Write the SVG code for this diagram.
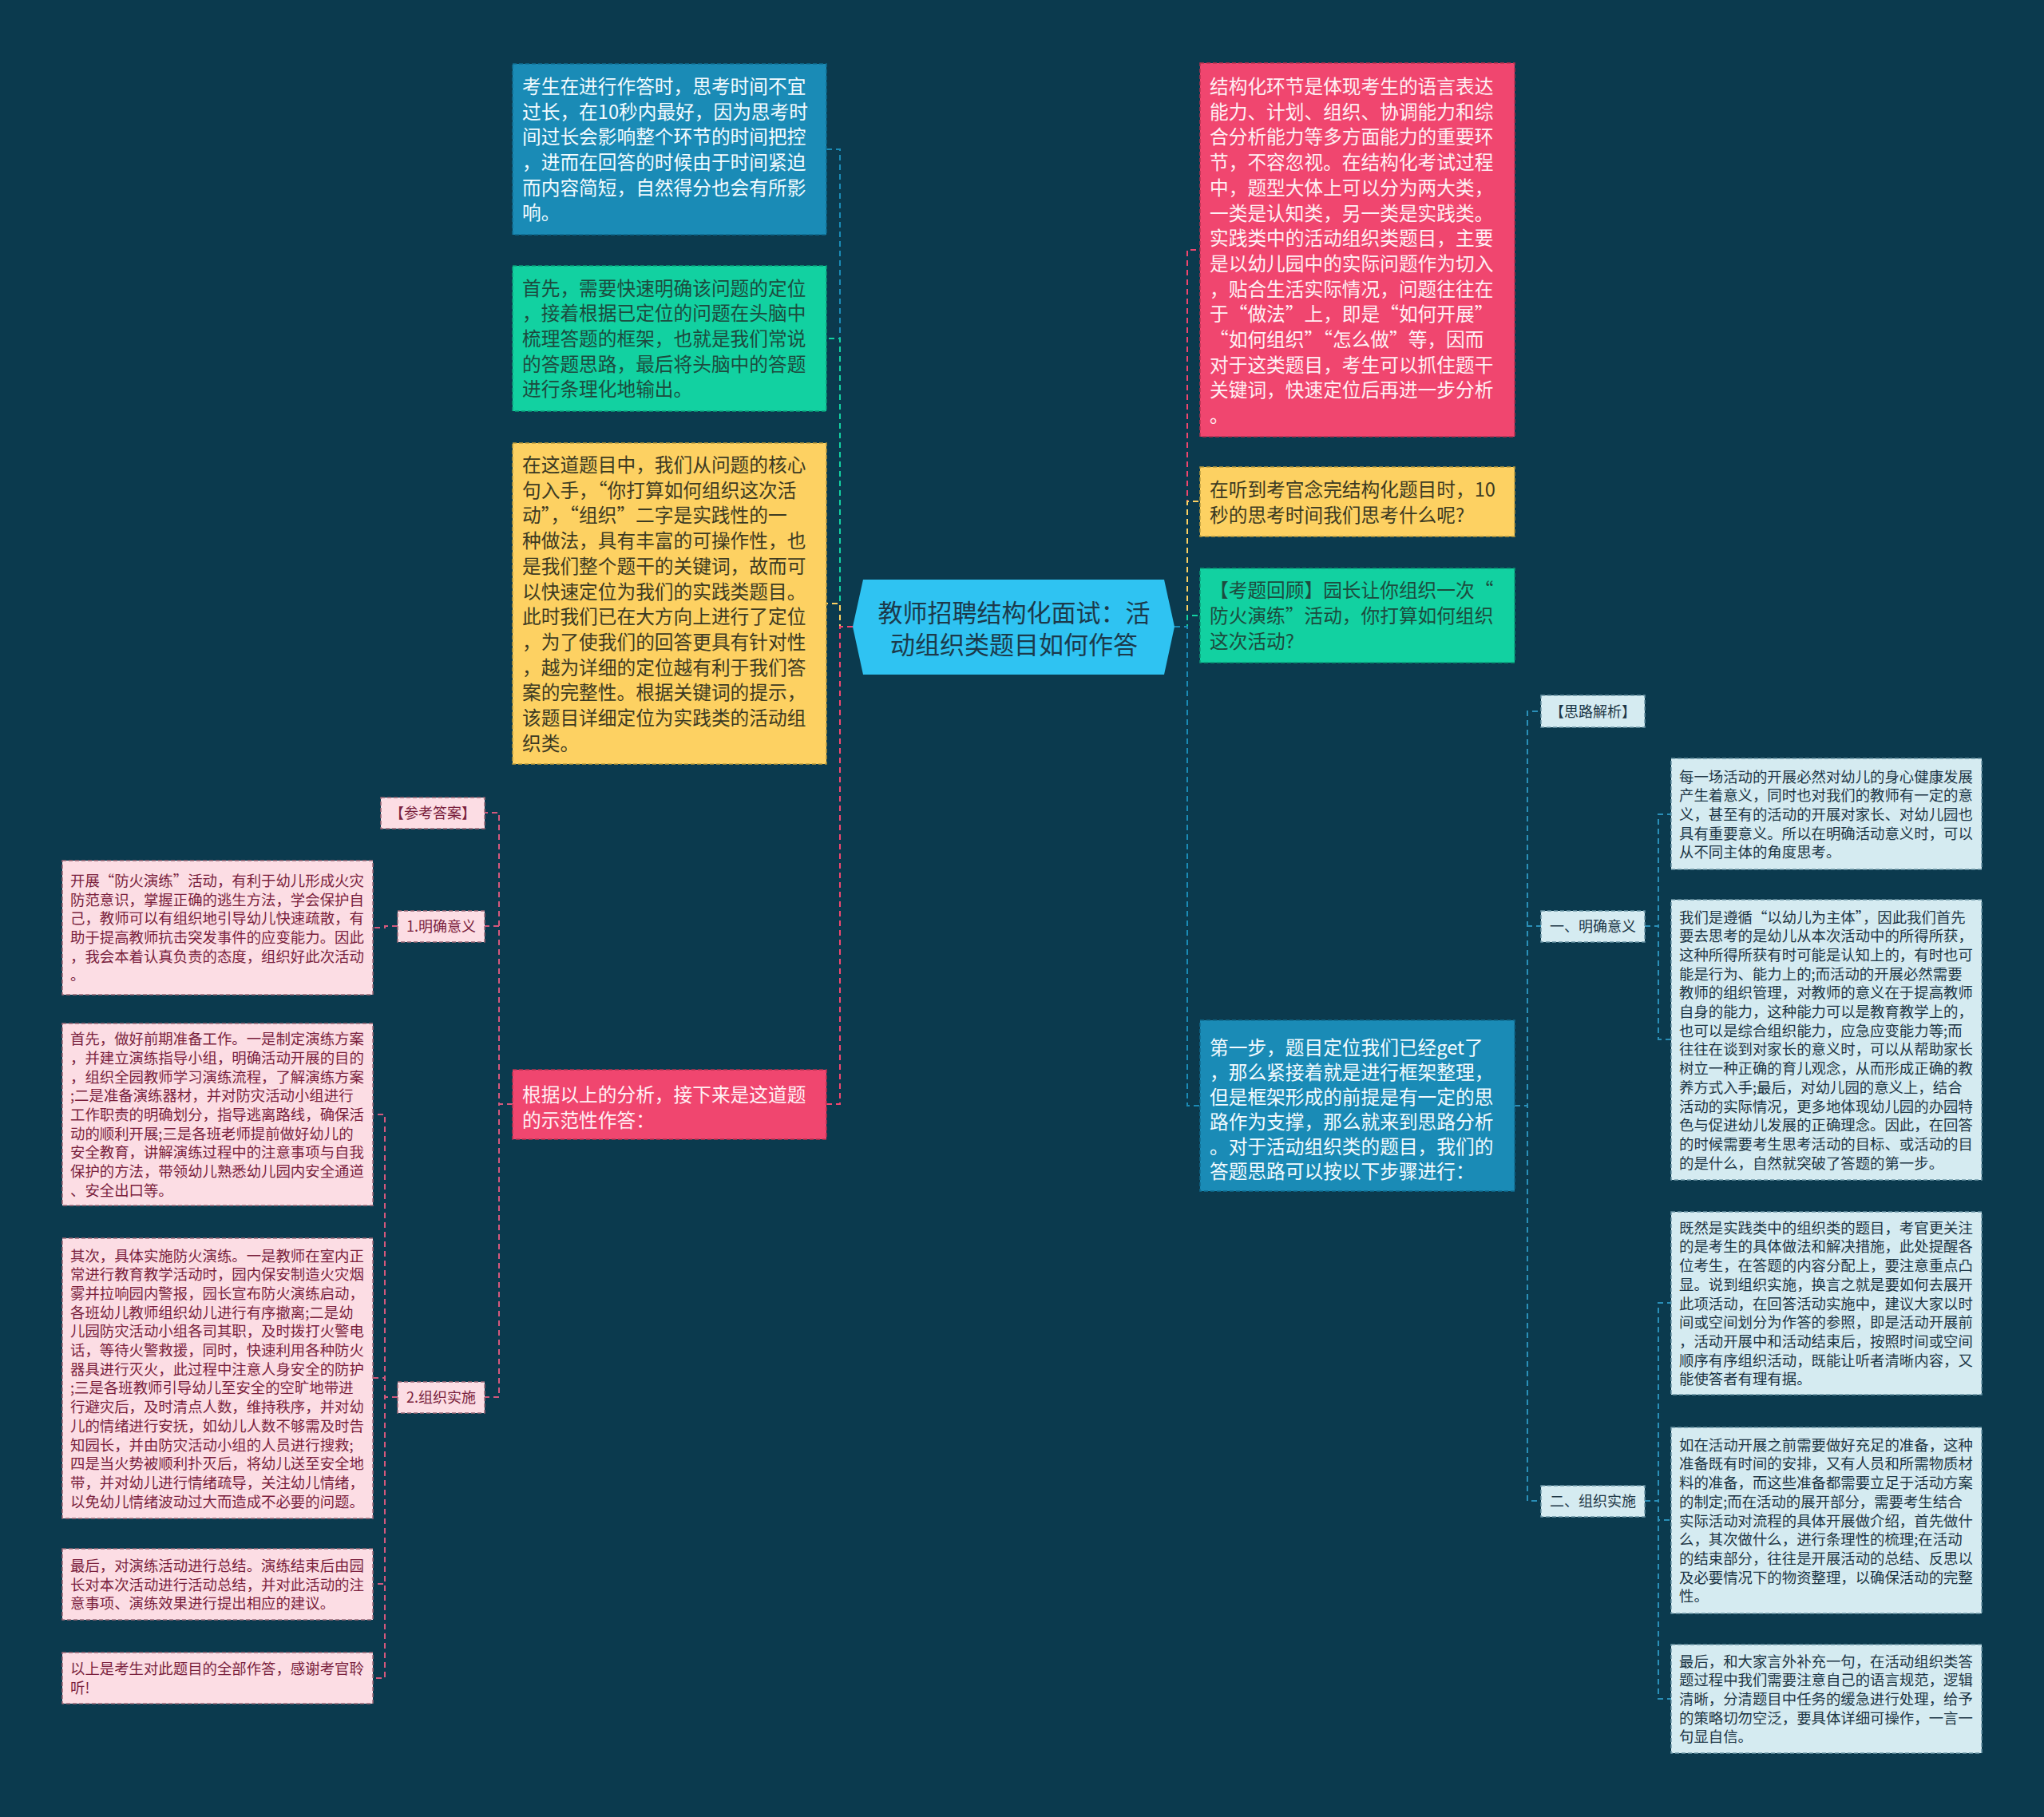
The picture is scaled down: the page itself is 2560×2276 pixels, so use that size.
<svg xmlns="http://www.w3.org/2000/svg" width="2560" height="2276" viewBox="0 0 2560 2276">
<style>
text{font-family:"Noto Sans CJK SC","Noto Sans CJK JP",sans-serif}
.m{font-size:23.7px}
.s{font-size:18.4px}
.l{font-size:18px;text-anchor:middle}
.c{fill:none;stroke-width:2;stroke-dasharray:7 5}
.bd{stroke-width:1.5;stroke-dasharray:5 3}
.blue{fill:#1a8bb6;stroke:#0f6c90}
.green{fill:#12d1a1;stroke:#0a9d78}
.yellow{fill:#fdd162;stroke:#b99a3c}
.pink{fill:#f0466f;stroke:#b8304f}
.lpink{fill:#fcdde4;stroke:#9b6877}
.lblue{fill:#d5ebf1;stroke:#6c96a6}
.tw{fill:#f3fbff}
.tg{fill:#1d4b3e}
.ty{fill:#3c3a22}
.tp{fill:#fff0f4}
.tlp{fill:#7a1f3d}
.tlb{fill:#1d3645}
</style>
<rect x="0" y="0" width="2560" height="2276" fill="#0b3a4e"/>
<g id="connectors">
<path class="c" stroke="#1a8bb6" d="M1068,785 H1052 V187 H1035"/>
<path class="c" stroke="#12d1a1" d="M1068,785 H1052 V424 H1035"/>
<path class="c" stroke="#fdd162" d="M1068,785 H1052 V756 H1035"/>
<path class="c" stroke="#f0466f" d="M1068,785 H1052 V1383 H1035"/>
<path class="c" stroke="#f0466f" d="M1471,785 H1487 V313 H1503"/>
<path class="c" stroke="#fdd162" d="M1471,785 H1487 V628 H1503"/>
<path class="c" stroke="#12d1a1" d="M1471,785 H1487 V771 H1503"/>
<path class="c" stroke="#1a8bb6" d="M1471,785 H1487 V1385 H1503"/>
<path class="c" stroke="#d4587c" d="M642,1383 H625 V1018 H607"/>
<path class="c" stroke="#d4587c" d="M642,1383 H625 V1160 H607"/>
<path class="c" stroke="#d4587c" d="M642,1383 H625 V1750 H607"/>
<path class="c" stroke="#d4587c" d="M498,1160 H482 V1162 H467"/>
<path class="c" stroke="#d4587c" d="M498,1750 H482 V1396 H467"/>
<path class="c" stroke="#d4587c" d="M498,1750 H482 V1726 H467"/>
<path class="c" stroke="#d4587c" d="M498,1750 H482 V1984 H467"/>
<path class="c" stroke="#d4587c" d="M498,1750 H482 V2102 H467"/>
<path class="c" stroke="#2a8fb8" d="M1897,1385 H1913 V891 H1930"/>
<path class="c" stroke="#2a8fb8" d="M1897,1385 H1913 V1160 H1930"/>
<path class="c" stroke="#2a8fb8" d="M1897,1385 H1913 V1880 H1930"/>
<path class="c" stroke="#2a8fb8" d="M2060,1160 H2077 V1020 H2093"/>
<path class="c" stroke="#2a8fb8" d="M2060,1160 H2077 V1302 H2093"/>
<path class="c" stroke="#2a8fb8" d="M2060,1880 H2077 V1632 H2093"/>
<path class="c" stroke="#2a8fb8" d="M2060,1880 H2077 V1904 H2093"/>
<path class="c" stroke="#2a8fb8" d="M2060,1880 H2077 V2128 H2093"/>
</g>
<g id="center">
<polygon points="1068,785 1081,726 1458,726 1471,785 1458,845 1081,845" fill="#2fc3f2"/>
<text x="1270" y="779" font-size="31" text-anchor="middle" fill="#1c3a4b">教师招聘结构化面试：活</text>
<text x="1270" y="819" font-size="31" text-anchor="middle" fill="#1c3a4b">动组织类题目如何作答</text>
</g>
<g id="n-left-blue">
<rect class="bd blue" x="642" y="80" width="393" height="214"/>
<text class="m tw" y="116.8"><tspan x="654">考生在进行作答时，思考时间不宜</tspan><tspan x="654" dy="31.7">过长，在10秒内最好，因为思考时</tspan><tspan x="654" dy="31.7">间过长会影响整个环节的时间把控</tspan><tspan x="654" dy="31.7">，进而在回答的时候由于时间紧迫</tspan><tspan x="654" dy="31.7">而内容简短，自然得分也会有所影</tspan><tspan x="654" dy="31.7">响。</tspan></text>
</g>
<g id="n-left-green">
<rect class="bd green" x="642" y="333" width="393" height="182"/>
<text class="m tg" y="369.6"><tspan x="654">首先，需要快速明确该问题的定位</tspan><tspan x="654" dy="31.7">，接着根据已定位的问题在头脑中</tspan><tspan x="654" dy="31.7">梳理答题的框架，也就是我们常说</tspan><tspan x="654" dy="31.7">的答题思路，最后将头脑中的答题</tspan><tspan x="654" dy="31.7">进行条理化地输出。</tspan></text>
</g>
<g id="n-left-yellow">
<rect class="bd yellow" x="642" y="555" width="393" height="402"/>
<text class="m ty" y="591"><tspan x="654">在这道题目中，我们从问题的核心</tspan><tspan x="654" dy="31.7">句入手，“你打算如何组织这次活</tspan><tspan x="654" dy="31.7">动”，“组织”二字是实践性的一</tspan><tspan x="654" dy="31.7">种做法，具有丰富的可操作性，也</tspan><tspan x="654" dy="31.7">是我们整个题干的关键词，故而可</tspan><tspan x="654" dy="31.7">以快速定位为我们的实践类题目。</tspan><tspan x="654" dy="31.7">此时我们已在大方向上进行了定位</tspan><tspan x="654" dy="31.7">，为了使我们的回答更具有针对性</tspan><tspan x="654" dy="31.7">，越为详细的定位越有利于我们答</tspan><tspan x="654" dy="31.7">案的完整性。根据关键词的提示，</tspan><tspan x="654" dy="31.7">该题目详细定位为实践类的活动组</tspan><tspan x="654" dy="31.7">织类。</tspan></text>
</g>
<g id="n-left-pink">
<rect class="bd pink" x="642" y="1340" width="393" height="87"/>
<text class="m tp" y="1380"><tspan x="654">根据以上的分析，接下来是这道题</tspan><tspan x="654" dy="31.7">的示范性作答：</tspan></text>
</g>
<g id="n-ref">
<rect class="bd lpink" x="477" y="999" width="130" height="39"/>
<text class="l tlp" x="542" y="1025">【参考答案】</text>
</g>
<g id="n-meaning-l">
<rect class="bd lpink" x="498" y="1141" width="109" height="39"/>
<text class="l tlp" x="552.5" y="1167">1.明确意义</text>
</g>
<g id="n-impl-l">
<rect class="bd lpink" x="498" y="1731" width="109" height="39"/>
<text class="l tlp" x="552.5" y="1757">2.组织实施</text>
</g>
<g id="n-l1">
<rect class="bd lpink" x="78" y="1078" width="389" height="168"/>
<text class="s tlp" y="1109.8"><tspan x="88">开展“防火演练”活动，有利于幼儿形成火灾</tspan><tspan x="88" dy="23.7">防范意识，掌握正确的逃生方法，学会保护自</tspan><tspan x="88" dy="23.7">己，教师可以有组织地引导幼儿快速疏散，有</tspan><tspan x="88" dy="23.7">助于提高教师抗击突发事件的应变能力。因此</tspan><tspan x="88" dy="23.7">，我会本着认真负责的态度，组织好此次活动</tspan><tspan x="88" dy="23.7">。</tspan></text>
</g>
<g id="n-l2">
<rect class="bd lpink" x="78" y="1282" width="389" height="228"/>
<text class="s tlp" y="1308.2"><tspan x="88">首先，做好前期准备工作。一是制定演练方案</tspan><tspan x="88" dy="23.7">，并建立演练指导小组，明确活动开展的目的</tspan><tspan x="88" dy="23.7">，组织全园教师学习演练流程，了解演练方案</tspan><tspan x="88" dy="23.7">;二是准备演练器材，并对防灾活动小组进行</tspan><tspan x="88" dy="23.7">工作职责的明确划分，指导逃离路线，确保活</tspan><tspan x="88" dy="23.7">动的顺利开展;三是各班老师提前做好幼儿的</tspan><tspan x="88" dy="23.7">安全教育，讲解演练过程中的注意事项与自我</tspan><tspan x="88" dy="23.7">保护的方法，带领幼儿熟悉幼儿园内安全通道</tspan><tspan x="88" dy="23.7">、安全出口等。</tspan></text>
</g>
<g id="n-l3">
<rect class="bd lpink" x="78" y="1551" width="389" height="351"/>
<text class="s tlp" y="1579.5"><tspan x="88">其次，具体实施防火演练。一是教师在室内正</tspan><tspan x="88" dy="23.7">常进行教育教学活动时，园内保安制造火灾烟</tspan><tspan x="88" dy="23.7">雾并拉响园内警报，园长宣布防火演练启动，</tspan><tspan x="88" dy="23.7">各班幼儿教师组织幼儿进行有序撤离;二是幼</tspan><tspan x="88" dy="23.7">儿园防灾活动小组各司其职，及时拨打火警电</tspan><tspan x="88" dy="23.7">话，等待火警救援，同时，快速利用各种防火</tspan><tspan x="88" dy="23.7">器具进行灭火，此过程中注意人身安全的防护</tspan><tspan x="88" dy="23.7">;三是各班教师引导幼儿至安全的空旷地带进</tspan><tspan x="88" dy="23.7">行避灾后，及时清点人数，维持秩序，并对幼</tspan><tspan x="88" dy="23.7">儿的情绪进行安抚，如幼儿人数不够需及时告</tspan><tspan x="88" dy="23.7">知园长，并由防灾活动小组的人员进行搜救;</tspan><tspan x="88" dy="23.7">四是当火势被顺利扑灭后，将幼儿送至安全地</tspan><tspan x="88" dy="23.7">带，并对幼儿进行情绪疏导，关注幼儿情绪，</tspan><tspan x="88" dy="23.7">以免幼儿情绪波动过大而造成不必要的问题。</tspan></text>
</g>
<g id="n-l4">
<rect class="bd lpink" x="78" y="1940" width="389" height="89"/>
<text class="s tlp" y="1967.8"><tspan x="88">最后，对演练活动进行总结。演练结束后由园</tspan><tspan x="88" dy="23.7">长对本次活动进行活动总结，并对此活动的注</tspan><tspan x="88" dy="23.7">意事项、演练效果进行提出相应的建议。</tspan></text>
</g>
<g id="n-l5">
<rect class="bd lpink" x="78" y="2070" width="389" height="64"/>
<text class="s tlp" y="2097.2"><tspan x="88">以上是考生对此题目的全部作答，感谢考官聆</tspan><tspan x="88" dy="23.7">听!</tspan></text>
</g>
<g id="n-right-pink">
<rect class="bd pink" x="1503" y="79" width="394" height="468"/>
<text class="m tp" y="117"><tspan x="1515">结构化环节是体现考生的语言表达</tspan><tspan x="1515" dy="31.7">能力、计划、组织、协调能力和综</tspan><tspan x="1515" dy="31.7">合分析能力等多方面能力的重要环</tspan><tspan x="1515" dy="31.7">节，不容忽视。在结构化考试过程</tspan><tspan x="1515" dy="31.7">中，题型大体上可以分为两大类，</tspan><tspan x="1515" dy="31.7">一类是认知类，另一类是实践类。</tspan><tspan x="1515" dy="31.7">实践类中的活动组织类题目，主要</tspan><tspan x="1515" dy="31.7">是以幼儿园中的实际问题作为切入</tspan><tspan x="1515" dy="31.7">，贴合生活实际情况，问题往往在</tspan><tspan x="1515" dy="31.7">于“做法”上，即是“如何开展”</tspan><tspan x="1515" dy="31.7">“如何组织”“怎么做”等，因而</tspan><tspan x="1515" dy="31.7">对于这类题目，考生可以抓住题干</tspan><tspan x="1515" dy="31.7">关键词，快速定位后再进一步分析</tspan><tspan x="1515" dy="31.7">。</tspan></text>
</g>
<g id="n-right-yellow">
<rect class="bd yellow" x="1503" y="585" width="394" height="87"/>
<text class="m ty" y="622"><tspan x="1515">在听到考官念完结构化题目时，10</tspan><tspan x="1515" dy="31.7">秒的思考时间我们思考什么呢?</tspan></text>
</g>
<g id="n-right-green">
<rect class="bd green" x="1503" y="712" width="394" height="118"/>
<text class="m tg" y="748.3"><tspan x="1515">【考题回顾】园长让你组织一次“</tspan><tspan x="1515" dy="31.7">防火演练”活动，你打算如何组织</tspan><tspan x="1515" dy="31.7">这次活动?</tspan></text>
</g>
<g id="n-right-blue">
<rect class="bd blue" x="1503" y="1278" width="394" height="214"/>
<text class="m tw" y="1321"><tspan x="1515">第一步，题目定位我们已经get了</tspan><tspan x="1515" dy="31">，那么紧接着就是进行框架整理，</tspan><tspan x="1515" dy="31">但是框架形成的前提是有一定的思</tspan><tspan x="1515" dy="31">路作为支撑，那么就来到思路分析</tspan><tspan x="1515" dy="31">。对于活动组织类的题目，我们的</tspan><tspan x="1515" dy="31">答题思路可以按以下步骤进行：</tspan></text>
</g>
<g id="n-think">
<rect class="bd lblue" x="1930" y="871" width="130" height="40"/>
<text class="l tlb" x="1995" y="898">【思路解析】</text>
</g>
<g id="n-meaning-r">
<rect class="bd lblue" x="1930" y="1141" width="130" height="39"/>
<text class="l tlb" x="1995" y="1167">一、明确意义</text>
</g>
<g id="n-impl-r">
<rect class="bd lblue" x="1930" y="1861" width="130" height="39"/>
<text class="l tlb" x="1995" y="1887">二、组织实施</text>
</g>
<g id="n-r1">
<rect class="bd lblue" x="2093" y="950" width="389" height="139"/>
<text class="s tlb" y="979.6"><tspan x="2103">每一场活动的开展必然对幼儿的身心健康发展</tspan><tspan x="2103" dy="23.7">产生着意义，同时也对我们的教师有一定的意</tspan><tspan x="2103" dy="23.7">义，甚至有的活动的开展对家长、对幼儿园也</tspan><tspan x="2103" dy="23.7">具有重要意义。所以在明确活动意义时，可以</tspan><tspan x="2103" dy="23.7">从不同主体的角度思考。</tspan></text>
</g>
<g id="n-r2">
<rect class="bd lblue" x="2093" y="1127" width="389" height="351"/>
<text class="s tlb" y="1155.5"><tspan x="2103">我们是遵循“以幼儿为主体”，因此我们首先</tspan><tspan x="2103" dy="23.7">要去思考的是幼儿从本次活动中的所得所获，</tspan><tspan x="2103" dy="23.7">这种所得所获有时可能是认知上的，有时也可</tspan><tspan x="2103" dy="23.7">能是行为、能力上的;而活动的开展必然需要</tspan><tspan x="2103" dy="23.7">教师的组织管理，对教师的意义在于提高教师</tspan><tspan x="2103" dy="23.7">自身的能力，这种能力可以是教育教学上的，</tspan><tspan x="2103" dy="23.7">也可以是综合组织能力，应急应变能力等;而</tspan><tspan x="2103" dy="23.7">往往在谈到对家长的意义时，可以从帮助家长</tspan><tspan x="2103" dy="23.7">树立一种正确的育儿观念，从而形成正确的教</tspan><tspan x="2103" dy="23.7">养方式入手;最后，对幼儿园的意义上，结合</tspan><tspan x="2103" dy="23.7">活动的实际情况，更多地体现幼儿园的办园特</tspan><tspan x="2103" dy="23.7">色与促进幼儿发展的正确理念。因此，在回答</tspan><tspan x="2103" dy="23.7">的时候需要考生思考活动的目标、或活动的目</tspan><tspan x="2103" dy="23.7">的是什么，自然就突破了答题的第一步。</tspan></text>
</g>
<g id="n-r3">
<rect class="bd lblue" x="2093" y="1518" width="389" height="229"/>
<text class="s tlb" y="1544.7"><tspan x="2103">既然是实践类中的组织类的题目，考官更关注</tspan><tspan x="2103" dy="23.7">的是考生的具体做法和解决措施，此处提醒各</tspan><tspan x="2103" dy="23.7">位考生，在答题的内容分配上，要注意重点凸</tspan><tspan x="2103" dy="23.7">显。说到组织实施，换言之就是要如何去展开</tspan><tspan x="2103" dy="23.7">此项活动，在回答活动实施中，建议大家以时</tspan><tspan x="2103" dy="23.7">间或空间划分为作答的参照，即是活动开展前</tspan><tspan x="2103" dy="23.7">，活动开展中和活动结束后，按照时间或空间</tspan><tspan x="2103" dy="23.7">顺序有序组织活动，既能让听者清晰内容，又</tspan><tspan x="2103" dy="23.7">能使答者有理有据。</tspan></text>
</g>
<g id="n-r4">
<rect class="bd lblue" x="2093" y="1788" width="389" height="233"/>
<text class="s tlb" y="1816.7"><tspan x="2103">如在活动开展之前需要做好充足的准备，这种</tspan><tspan x="2103" dy="23.7">准备既有时间的安排，又有人员和所需物质材</tspan><tspan x="2103" dy="23.7">料的准备，而这些准备都需要立足于活动方案</tspan><tspan x="2103" dy="23.7">的制定;而在活动的展开部分，需要考生结合</tspan><tspan x="2103" dy="23.7">实际活动对流程的具体开展做介绍，首先做什</tspan><tspan x="2103" dy="23.7">么，其次做什么，进行条理性的梳理;在活动</tspan><tspan x="2103" dy="23.7">的结束部分，往往是开展活动的总结、反思以</tspan><tspan x="2103" dy="23.7">及必要情况下的物资整理，以确保活动的完整</tspan><tspan x="2103" dy="23.7">性。</tspan></text>
</g>
<g id="n-r5">
<rect class="bd lblue" x="2093" y="2060" width="389" height="136"/>
<text class="s tlb" y="2087.6"><tspan x="2103">最后，和大家言外补充一句，在活动组织类答</tspan><tspan x="2103" dy="23.7">题过程中我们需要注意自己的语言规范，逻辑</tspan><tspan x="2103" dy="23.7">清晰，分清题目中任务的缓急进行处理，给予</tspan><tspan x="2103" dy="23.7">的策略切勿空泛，要具体详细可操作，一言一</tspan><tspan x="2103" dy="23.7">句显自信。</tspan></text>
</g>
</svg>
